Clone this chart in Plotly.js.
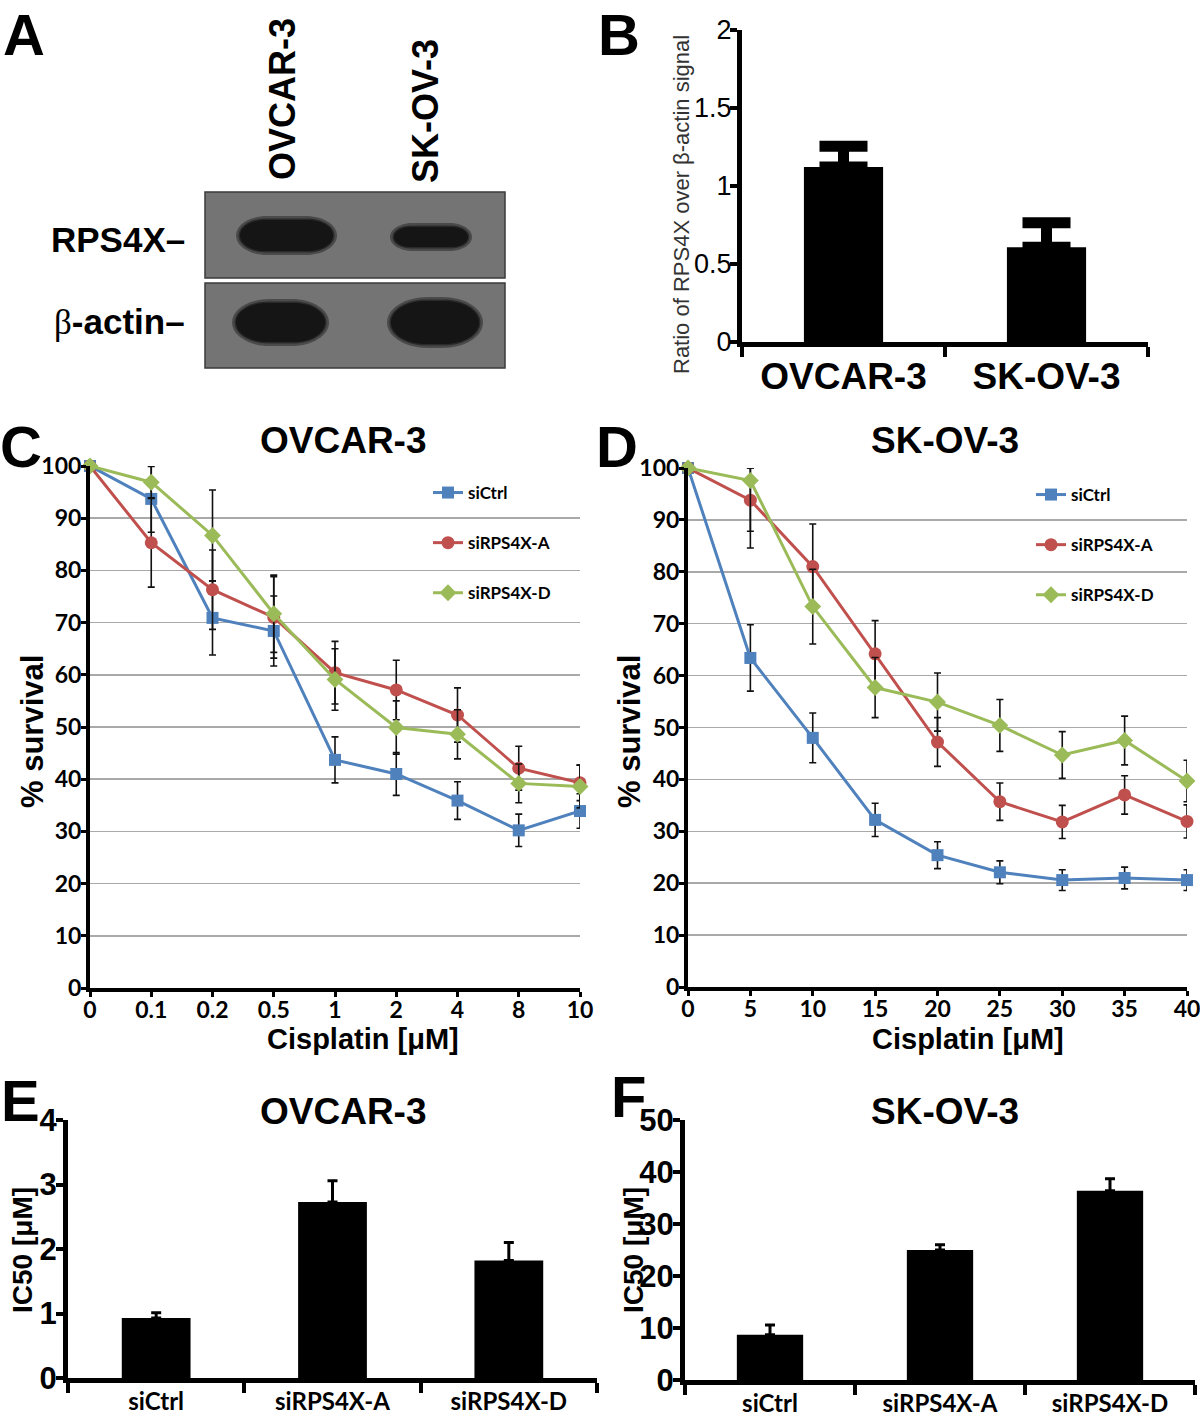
<!DOCTYPE html>
<html>
<head>
<meta charset="utf-8">
<script src="https://cdn.plot.ly/plotly-3.0.1.min.js"></script>
<style>html,body{margin:0;padding:0;background:#fff;}#chart{width:1200px;height:1423px;}</style>
</head>
<body>
<div id="chart"></div>
<script>
// ---------------- DATA ----------------
// Panel B
const bCategories = ['OVCAR-3', 'SK-OV-3'];
const bRatio = [1.122, 0.607];
const bRatioErr = [0.133, 0.158];

// Panel C (OVCAR-3 survival)
const cDoseLabels = ['0', '0.1', '0.2', '0.5', '1', '2', '4', '8', '10'];
const cCtrl = [100, 93.7, 70.9, 68.4, 43.7, 41.0, 35.9, 30.2, 33.9];
const cCtrlErr = [0, 6.4, 7.1, 6.7, 4.4, 4.1, 3.6, 3.1, 3.3];
const cSiA = [100, 85.3, 76.3, 71.0, 60.4, 57.1, 52.3, 42.1, 39.3];
const cSiAErr = [0, 8.5, 7.6, 7.8, 6.0, 5.7, 5.2, 4.2, 3.4];
const cSiD = [100, 96.9, 86.7, 71.7, 59.1, 49.9, 48.6, 39.2, 38.6];
const cSiDErr = [0, 3.0, 8.7, 7.4, 5.9, 5.1, 4.7, 3.7, 4.1];

// Panel D (SK-OV-3 survival)
const dDoseLabels = ['0', '5', '10', '15', '20', '25', '30', '35', '40'];
const dCtrl = [100, 63.4, 48.0, 32.2, 25.4, 22.1, 20.6, 21.0, 20.6];
const dCtrlErr = [0, 6.4, 4.8, 3.2, 2.6, 2.2, 2.0, 2.1, 2.0];
const dSiA = [100, 93.8, 81.0, 64.2, 47.2, 35.7, 31.8, 37.0, 31.9];
const dSiAErrUp = [0, 6.2, 8.2, 6.4, 4.7, 3.6, 3.2, 3.7, 3.2];
const dSiAErrDown = [0, 9.2, 8.2, 6.4, 4.7, 3.6, 3.2, 3.7, 3.2];
const dSiD = [100, 97.6, 73.3, 57.7, 54.9, 50.4, 44.7, 47.5, 39.7];
const dSiDErrUp = [0, 2.4, 7.2, 5.8, 5.6, 5.0, 4.5, 4.7, 4.0];
const dSiDErrDown = [0, 9.8, 7.2, 5.8, 5.6, 5.0, 4.5, 4.7, 4.0];

// Panels E / F (IC50)
const icCategories = ['siCtrl', 'siRPS4X-A', 'siRPS4X-D'];
const eIC50 = [0.93, 2.73, 1.82];
const eIC50Err = [0.08, 0.33, 0.28];
const fIC50 = [8.7, 25.0, 36.4];
const fIC50Err = [1.9, 1.0, 2.3];

const seriesNames = ['siCtrl', 'siRPS4X-A', 'siRPS4X-D'];
// --------------------------------------

const W = 1200, H = 1423;
const px = x => x / W;
const py = y => 1 - y / H;

const BLUE = '#4f81bd', RED = '#c0504d', GREEN = '#9bbb59';
const ARIAL = 'Liberation Sans, Arial, sans-serif';
const LATO = 'Lato, Open Sans, sans-serif';

const idx = arr => arr.map((_, i) => i);

function lineTrace(xLabels, y, errUp, errDown, name, color, symbol, size, xa, ya, legend, group) {
  return {
    type: 'scatter', mode: 'lines+markers',
    x: idx(xLabels), y: y, name: name,
    xaxis: xa, yaxis: ya, legend: legend, legendgroup: group,
    line: {color: color, width: 3},
    marker: {symbol: symbol, size: size, color: color, line: {width: 0}},
    error_y: {type: 'data', array: errUp, arrayminus: errDown, symmetric: false,
              color: '#111', thickness: 1.6, width: 3.5},
    cliponaxis: false
  };
}

function barTrace(cats, vals, err, xa, ya, thick, capw) {
  return {
    type: 'bar', x: cats, y: vals, xaxis: xa, yaxis: ya, showlegend: false,
    marker: {color: '#000', line: {width: 0}},
    error_y: {type: 'data', array: err, arrayminus: vals.map(() => 0), symmetric: false,
              color: '#000', thickness: thick, width: capw}
  };
}

const traces = [
  lineTrace(cDoseLabels, cCtrl, cCtrlErr, cCtrlErr, seriesNames[0], BLUE, 'square', 12, 'x', 'y', 'legend', 'c1'),
  lineTrace(cDoseLabels, cSiA, cSiAErr, cSiAErr, seriesNames[1], RED, 'circle', 13, 'x', 'y', 'legend', 'c2'),
  lineTrace(cDoseLabels, cSiD, cSiDErr, cSiDErr, seriesNames[2], GREEN, 'diamond', 13, 'x', 'y', 'legend', 'c3'),
  lineTrace(dDoseLabels, dCtrl, dCtrlErr, dCtrlErr, seriesNames[0], BLUE, 'square', 12, 'x2', 'y2', 'legend2', 'd1'),
  lineTrace(dDoseLabels, dSiA, dSiAErrUp, dSiAErrDown, seriesNames[1], RED, 'circle', 13, 'x2', 'y2', 'legend2', 'd2'),
  lineTrace(dDoseLabels, dSiD, dSiDErrUp, dSiDErrDown, seriesNames[2], GREEN, 'diamond', 13, 'x2', 'y2', 'legend2', 'd3'),
  barTrace(bCategories, bRatio, bRatioErr, 'x3', 'y3', 11, 24),
  barTrace(icCategories, eIC50, eIC50Err, 'x4', 'y4', 3, 5),
  barTrace(icCategories, fIC50, fIC50Err, 'x5', 'y5', 3, 5)
];

function survX(labels, x0, x1, yaName) {
  return {
    domain: [px(x0), px(x1)], anchor: yaName, range: [0, labels.length - 1],
    tickvals: idx(labels), ticktext: labels,
    showline: true, linecolor: '#000', linewidth: 4, mirror: false,
    ticks: 'outside', ticklen: 5, tickwidth: 3, tickcolor: '#000',
    ticklabelstandoff: -7, ticklabeloverflow: 'allow',
    showgrid: false, zeroline: false, fixedrange: true,
    tickfont: {family: LATO, size: 23, color: '#000', weight: 'bold'}
  };
}
function survY(y0, y1, xaName) {
  return {
    domain: [py(y0), py(y1)], anchor: xaName, range: [0, 100],
    tickvals: [0, 10, 20, 30, 40, 50, 60, 70, 80, 90, 100],
    showline: true, linecolor: '#000', linewidth: 4,
    ticks: 'outside', ticklen: 5, tickwidth: 3, tickcolor: '#000',
    ticklabelstandoff: -5, ticklabeloverflow: 'allow',
    showgrid: true, gridcolor: '#a9a9a9', gridwidth: 1.5, zeroline: false, fixedrange: true,
    tickfont: {family: LATO, size: 23, color: '#000', weight: 'bold'}
  };
}
function barX(x0, x1, yaName, font) {
  return {
    domain: [px(x0), px(x1)], anchor: yaName, type: 'category',
    showline: true, linecolor: '#000', linewidth: 5,
    ticks: 'outside', tickson: 'boundaries', ticklen: 10, tickwidth: 4, tickcolor: '#000',
    ticklabelstandoff: -2, ticklabeloverflow: 'allow',
    showgrid: false, zeroline: false, fixedrange: true, tickfont: font
  };
}
function barY(y0, y1, xaName, range, vals, font) {
  return {
    domain: [py(y0), py(y1)], anchor: xaName, range: range, tickvals: vals,
    showline: true, linecolor: '#000', linewidth: 5,
    ticks: 'outside', ticklen: 7, tickwidth: 4, tickcolor: '#000',
    ticklabelstandoff: -7, ticklabeloverflow: 'allow',
    showgrid: false, zeroline: false, fixedrange: true, tickfont: font
  };
}

// --- Western blot drawing (panel A) ---
function P(X, Y) { return px(X).toFixed(5) + ',' + py(Y).toFixed(5); }
function stadium(x0, x1, y0, y1) {
  const cy = (y0 + y1) / 2, hh = (y1 - y0) / 2, r = Math.min(hh * 1.6, (x1 - x0) / 2), k = 0.5523;
  return 'M' + P(x0 + r, y0) + ' L' + P(x1 - r, y0) +
    ' C' + P(x1 - r + k * r, y0) + ' ' + P(x1, cy - k * hh) + ' ' + P(x1, cy) +
    ' C' + P(x1, cy + k * hh) + ' ' + P(x1 - r + k * r, y1) + ' ' + P(x1 - r, y1) +
    ' L' + P(x0 + r, y1) +
    ' C' + P(x0 + r - k * r, y1) + ' ' + P(x0, cy + k * hh) + ' ' + P(x0, cy) +
    ' C' + P(x0, cy - k * hh) + ' ' + P(x0 + r - k * r, y0) + ' ' + P(x0 + r, y0) + ' Z';
}
function rectShape(x0, x1, y0, y1, fill) {
  return {type: 'rect', xref: 'paper', yref: 'paper', x0: px(x0), x1: px(x1), y0: py(y1), y1: py(y0),
          fillcolor: fill, line: {color: '#3a3a3a', width: 1.5}, layer: 'below'};
}
function band(x0, x1, y0, y1) {
  return [
    {type: 'path', xref: 'paper', yref: 'paper', path: stadium(x0 - 4, x1 + 4, y0 - 4, y1 + 4),
     fillcolor: '#4a4a4a', line: {width: 0}, layer: 'below'},
    {type: 'path', xref: 'paper', yref: 'paper', path: stadium(x0 - 1.5, x1 + 1.5, y0 - 1.5, y1 + 1.5),
     fillcolor: '#2a2a2a', line: {width: 0}, layer: 'below'},
    {type: 'path', xref: 'paper', yref: 'paper', path: stadium(x0, x1, y0, y1),
     fillcolor: '#151515', line: {width: 0}, layer: 'below'}
  ];
}
const shapes = [
  rectShape(205, 505, 192, 278, '#747474'),
  rectShape(205, 505, 283, 368, '#747474'),
  ...band(240, 333, 220, 251),
  ...band(394, 468, 227, 247),
  ...band(236, 325, 303, 342),
  ...band(391, 479, 301, 344)
];

function ann(text, x, y, size, opts) {
  return Object.assign({
    text: text, xref: 'paper', yref: 'paper', x: px(x), y: py(y),
    xanchor: 'center', yanchor: 'middle', showarrow: false,
    font: {family: ARIAL, size: size, color: '#000', weight: 'bold'}
  }, opts || {});
}

const annotations = [
  // panel letters
  ann('A', 1, 0, 58, {xanchor: 'left', yanchor: 'top'}),
  ann('B', 596, 0, 58, {xanchor: 'left', yanchor: 'top'}),
  ann('C', -2, 412, 58, {xanchor: 'left', yanchor: 'top'}),
  ann('D', 594, 412, 58, {xanchor: 'left', yanchor: 'top'}),
  ann('E', -1, 1066, 58, {xanchor: 'left', yanchor: 'top'}),
  ann('F', 609, 1062, 58, {xanchor: 'left', yanchor: 'top'}),
  // panel A labels
  ann('RPS4X–', 187, 240, 35, {xanchor: 'right'}),
  ann('<span style="font-family:Liberation Serif;font-weight:normal">β</span>-actin–', 187, 322, 35,
      {xanchor: 'right'}),
  ann('OVCAR-3', 282, 99, 36, {textangle: -90}),
  ann('SK-OV-3', 425, 111, 36, {textangle: -90}),
  // panel B y title
  ann('Ratio of RPS4X over β-actin signal', 681, 205, 22, {textangle: -90, font: {family: ARIAL, size: 22, color: '#333', weight: 'normal'}}),
  // panel C
  ann('OVCAR-3', 343, 441, 37),
  ann('% survival', 33, 732, 31, {textangle: -90}),
  ann('Cisplatin [μM]', 363, 1039, 29),
  // panel D
  ann('SK-OV-3', 945, 441, 37),
  ann('% survival', 630, 732, 31, {textangle: -90}),
  ann('Cisplatin [μM]', 968, 1039, 29),
  // panel E
  ann('OVCAR-3', 343, 1111, 37),
  ann('IC50 [μM]', 22, 1250, 28, {textangle: -90}),
  // panel F
  ann('SK-OV-3', 945, 1111, 37),
  ann('IC50 [μM]', 633, 1250, 28, {textangle: -90})
];

const legendCommon = {
  xanchor: 'left', yanchor: 'top', bgcolor: 'rgba(0,0,0,0)', borderwidth: 0,
  font: {family: LATO, size: 17, color: '#000', weight: 'bold'},
  traceorder: 'grouped', tracegroupgap: 25, itemwidth: 30
};

const layout = {
  width: W, height: H,
  margin: {l: 0, r: 0, t: 0, b: 0},
  paper_bgcolor: '#fff', plot_bgcolor: 'rgba(0,0,0,0)',
  showlegend: true,
  bargap: 0.61,
  xaxis: survX(cDoseLabels, 90, 580, 'y'),
  yaxis: survY(988, 466, 'x'),
  xaxis2: survX(dDoseLabels, 688, 1187, 'y2'),
  yaxis2: survY(987, 468, 'x2'),
  xaxis3: barX(742, 1148, 'y3', {family: ARIAL, size: 37, color: '#000', weight: 'bold'}),
  yaxis3: barY(342, 30, 'x3', [0, 2], [0, 0.5, 1, 1.5, 2], {family: ARIAL, size: 27, color: '#000'}),
  xaxis4: barX(68, 597, 'y4', {family: LATO, size: 24, color: '#000', weight: 'bold'}),
  yaxis4: barY(1378, 1120, 'x4', [0, 4], [0, 1, 2, 3, 4], {family: ARIAL, size: 31, color: '#000', weight: 'bold'}),
  xaxis5: barX(685, 1195, 'y5', {family: LATO, size: 24, color: '#000', weight: 'bold'}),
  yaxis5: barY(1380, 1120, 'x5', [0, 50], [0, 10, 20, 30, 40, 50], {family: ARIAL, size: 31, color: '#000', weight: 'bold'}),
  legend: Object.assign({x: px(428), y: py(475)}, legendCommon),
  legend2: Object.assign({x: px(1031), y: py(477)}, legendCommon),
  shapes: shapes,
  annotations: annotations
};

Plotly.newPlot('chart', traces, layout, {staticPlot: true, displayModeBar: false});
</script>
</body>
</html>
